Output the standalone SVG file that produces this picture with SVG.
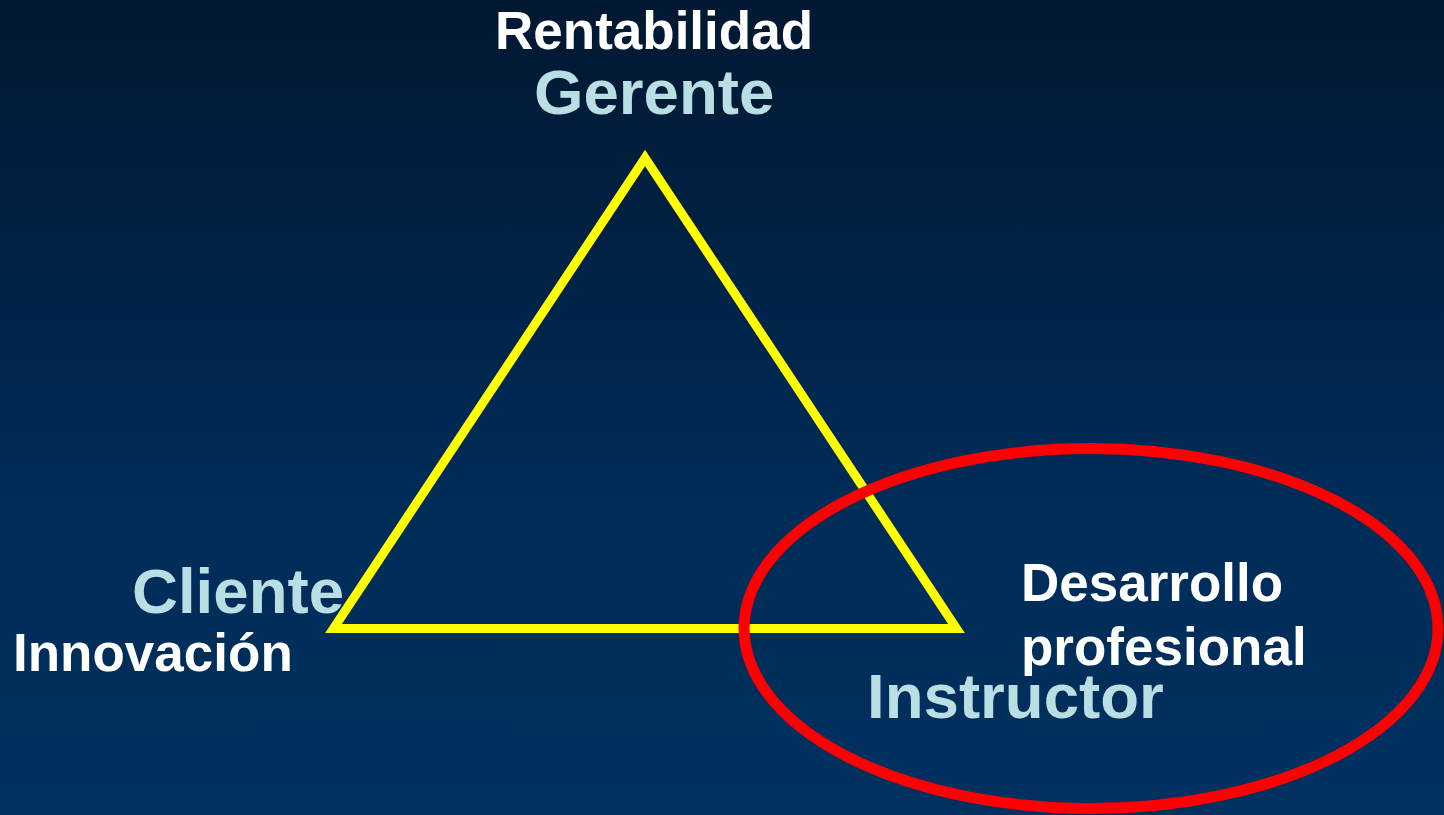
<svg xmlns="http://www.w3.org/2000/svg" width="1444" height="815" viewBox="0 0 1444 815">
<defs>
<linearGradient id="bg" x1="0" y1="0" x2="0" y2="1">
<stop offset="0" stop-color="#011831"/>
<stop offset="0.6" stop-color="#002b57"/>
<stop offset="1" stop-color="#00315f"/>
</linearGradient>
</defs>
<style>
text{font-family:"Liberation Sans",Arial,sans-serif;font-weight:bold}
.w{fill:#ffffff;font-size:53px}
.b{fill:#b9dee3;font-size:63.6px}
</style>
<rect width="1444" height="815" fill="url(#bg)"/>
<g id="triangle">
<polygon points="645,158 333.5,628.5 956.5,628.5" fill="none" stroke="#ffff00" stroke-width="9" stroke-linejoin="miter"/>
</g>
<g id="ellipse">
<ellipse cx="1091" cy="628.5" rx="347" ry="180" fill="none" stroke="#ff0000" stroke-width="11"/>
</g>
<g id="gerente">
<text class="w" x="495" y="49">Rentabilidad</text>
<text class="b" x="534" y="114">Gerente</text>
</g>
<g id="cliente">
<text class="b" x="132" y="613">Cliente</text>
<text class="w" x="13" y="671">Innovación</text>
</g>
<g id="instructor">
<text class="w" x="1021" y="601">Desarrollo</text>
<text class="w" x="1021" y="665">profesional</text>
<text class="b" x="867" y="718">Instructor</text>
</g>
<g id="connectors"></g>
</svg>
